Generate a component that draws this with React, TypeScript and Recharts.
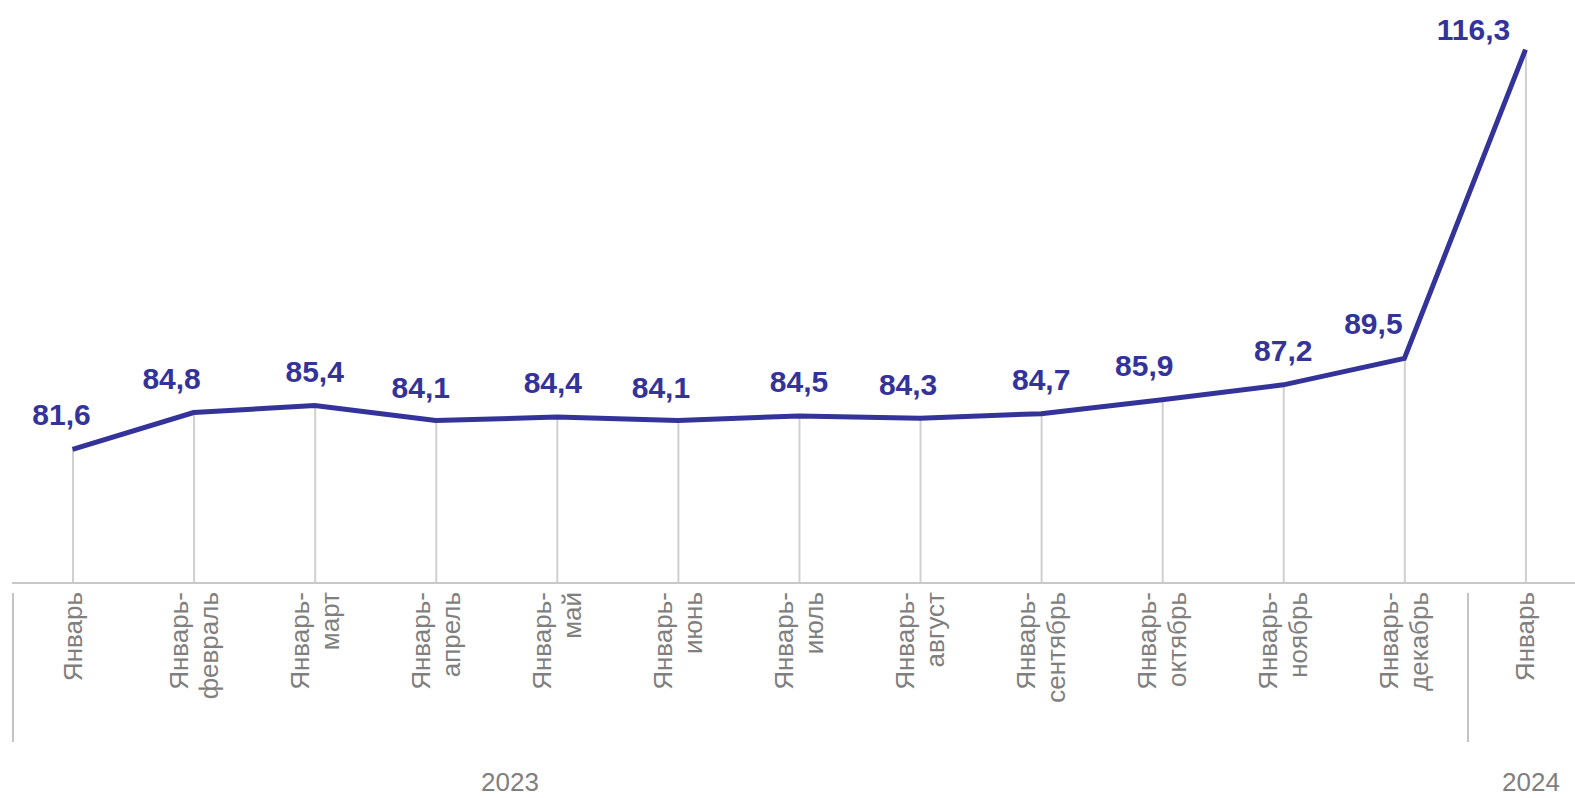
import React from 'react';
import {
  ComposedChart, Line, Bar, XAxis, YAxis, LabelList,
} from 'recharts';

// периоды (нарастающим итогом) и значения
const periods = [
  'Январь',
  'Январь-\nфевраль',
  'Январь-\nмарт',
  'Январь-\nапрель',
  'Январь-\nмай',
  'Январь-\nиюнь',
  'Январь-\nиюль',
  'Январь-\nавгуст',
  'Январь-\nсентябрь',
  'Январь-\nоктябрь',
  'Январь-\nноябрь',
  'Январь-\nдекабрь',
  'Январь',
];
const values = [81.6, 84.8, 85.4, 84.1, 84.4, 84.1, 84.5, 84.3, 84.7, 85.9, 87.2, 89.5, 116.3];
const years = ['2023', '2024'];

const data = periods.map((p, i) => ({ key: `${i}`, period: p, value: values[i] }));

const LINE_COLOR = '#333399';
const GRAY_TEXT = '#7f7f7f';
const FONT = '"Liberation Sans", Arial, sans-serif';

// сдвиги подписей как в исходной диаграмме
const labelDx = [-11, -22, 0, -15, -4, -17, 0, -12, 0, -18, 0, -31, -52];
const labelDy = [24, 24, 24, 23, 24, 23, 24, 23, 24, 24, 24, 24, 10];

const PeriodTick = (props: any) => {
  const { x, y, payload } = props;
  const idx = Number(payload.value);
  const lines = periods[idx].split('\n');
  const n = lines.length;
  return (
    <text
      transform={`translate(${x},${y}) rotate(-90)`}
      textAnchor="end"
      fill={GRAY_TEXT}
      fontSize={26}
      fontFamily={FONT}
    >
      {lines.map((l, i) => (
        <tspan key={i} x={0} y={(i - (n - 1) / 2) * 30 + 9}>
          {l}
        </tspan>
      ))}
    </text>
  );
};

const ValueLabel = (props: any) => {
  const vb = props.viewBox || {};
  const x = props.x ?? vb.x;
  const y = props.y ?? vb.y;
  const i = props.index ?? 0;
  if (x == null || y == null) return null;
  return (
    <text
      x={x + labelDx[i]}
      y={y - labelDy[i]}
      textAnchor="middle"
      fill={LINE_COLOR}
      fontSize={30}
      fontWeight="bold"
      fontFamily={FONT}
    >
      {String(props.value).replace('.', ',')}
    </text>
  );
};

export default function App() {
  return (
    <div
      style={{
        position: 'absolute', left: 0, top: 0, width: 1575, height: 798,
        overflow: 'hidden', background: '#fff', fontFamily: FONT,
      }}
    >
      <ComposedChart
        width={1586}
        height={798}
        data={data}
        margin={{ top: 7, right: 0, left: 12, bottom: 0 }}
      >
        <XAxis
          dataKey="key"
          height={215}
          interval={0}
          tickSize={0}
          tickMargin={9}
          axisLine={{ stroke: '#c8c8c8', strokeWidth: 2 }}
          tickLine={false}
          tick={<PeriodTick />}
        />
        <YAxis hide domain={[70, 120]} allowDataOverflow />
        <Bar dataKey="value" barSize={2} fill="#d0d0d0" isAnimationActive={false} />
        <Line
          type="linear"
          dataKey="value"
          stroke={LINE_COLOR}
          strokeWidth={5}
          dot={false}
          activeDot={false}
          isAnimationActive={false}
        >
          <LabelList dataKey="value" content={<ValueLabel />} />
        </Line>
      </ComposedChart>

      {/* разделители групп и годы */}
      <div style={{ position: 'absolute', left: 12, top: 593, width: 2, height: 149, background: '#c4c4c4' }} />
      <div style={{ position: 'absolute', left: 1467, top: 593, width: 2, height: 149, background: '#c4c4c4' }} />
      <div
        style={{
          position: 'absolute', left: 410, top: 767, width: 200, textAlign: 'center',
          fontSize: 26, color: GRAY_TEXT, lineHeight: '30px',
        }}
      >
        {years[0]}
      </div>
      <div
        style={{
          position: 'absolute', left: 1431, top: 767, width: 200, textAlign: 'center',
          fontSize: 26, color: GRAY_TEXT, lineHeight: '30px',
        }}
      >
        {years[1]}
      </div>
    </div>
  );
}
